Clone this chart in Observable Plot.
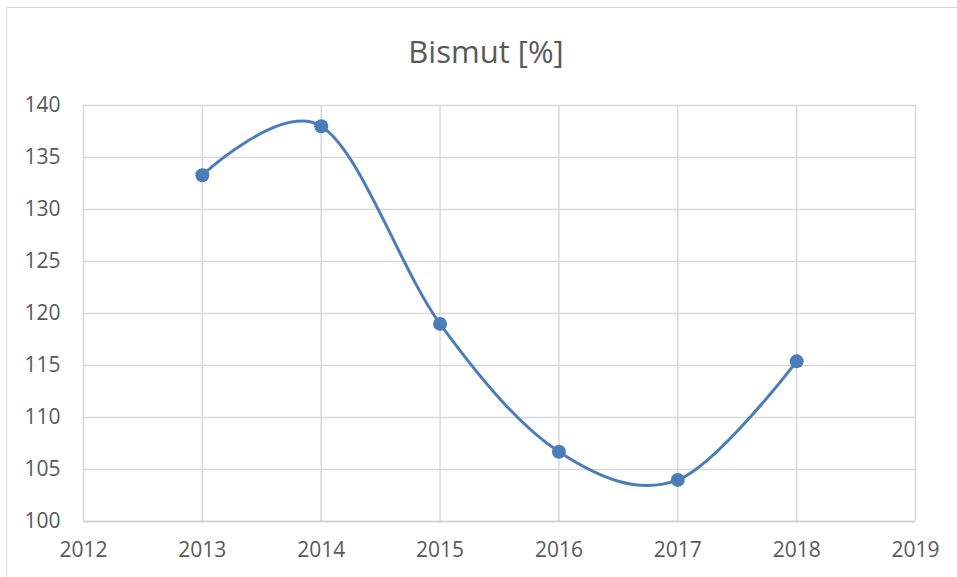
<!DOCTYPE html>
<html>
<head>
<meta charset="utf-8">
<script src="https://cdn.jsdelivr.net/npm/d3@7"></script>
<script src="https://cdn.jsdelivr.net/npm/@observablehq/plot@0.6"></script>
<style>
  html, body { margin: 0; padding: 0; background: #fff; }
  #wrap { position: relative; width: 957px; height: 577px; overflow: hidden; }
  #frame { position: absolute; left: 6px; top: 7px; width: 980px; height: 600px;
           border-left: 1.5px solid #d9d9d9; border-top: 1.5px solid #d9d9d9; pointer-events: none; }
  #title { position: absolute; left: 486px; top: 29px; transform: translateX(-50%);
           font-family: "Open Sans", sans-serif; font-size: 31px; line-height: 44px; color: #595959; white-space: nowrap; margin: 0; font-weight: 400; }
  #chart { position: absolute; left: 0; top: 0; }
</style>
</head>
<body>
<div id="wrap">
  <div id="frame"></div>
  <div id="chart"></div>
  <div id="title">Bismut [%]</div>
</div>
<script>
const years = [2013, 2014, 2015, 2016, 2017, 2018];
const values = [133.3, 138.0, 119.0, 106.7, 104.0, 115.4];
const xTicks = [2012, 2013, 2014, 2015, 2016, 2017, 2018, 2019];
const yTicks = [100, 105, 110, 115, 120, 125, 130, 135, 140];

const data = years.map((y, i) => ({year: y, value: values[i]}));
const blue = "#4a7ebb";
const grid = "#d9d9d9";

const chart = Plot.plot({
  width: 957,
  height: 577,
  marginLeft: 83,
  marginRight: 42,
  marginTop: 105,
  marginBottom: 56,
  style: { fontFamily: "'Open Sans', sans-serif", fontSize: "21px", color: "#595959", background: "transparent" },
  x: { domain: [2012, 2019], ticks: xTicks, tickFormat: d => String(d), label: null, tickSize: 0, tickPadding: 22 },
  y: { domain: [100, 140], ticks: yTicks, label: null, tickSize: 0, tickPadding: 22 },
  marks: [
    Plot.gridX(xTicks, { stroke: grid, strokeOpacity: 1, strokeWidth: 1.5 }),
    Plot.gridY(yTicks, { stroke: grid, strokeOpacity: 1, strokeWidth: 1.5 }),
    Plot.ruleY([100], { stroke: "#cfcfcf", strokeWidth: 1.5 }),
    Plot.axisX({ ticks: xTicks, tickFormat: d => String(d), tickSize: 0, tickPadding: 21, label: null, fill: "#595959", fontSize: 21 }),
    Plot.axisY({ ticks: yTicks, tickSize: 0, tickPadding: 23, label: null, fill: "#595959", fontSize: 21 }),
    Plot.line(data, { x: "year", y: "value", stroke: blue, strokeWidth: 3, curve: "cardinal", tension: 0 }),
    Plot.dot(data, { x: "year", y: "value", fill: blue, r: 7 })
  ]
});
document.getElementById("chart").appendChild(chart);
</script>
</body>
</html>
